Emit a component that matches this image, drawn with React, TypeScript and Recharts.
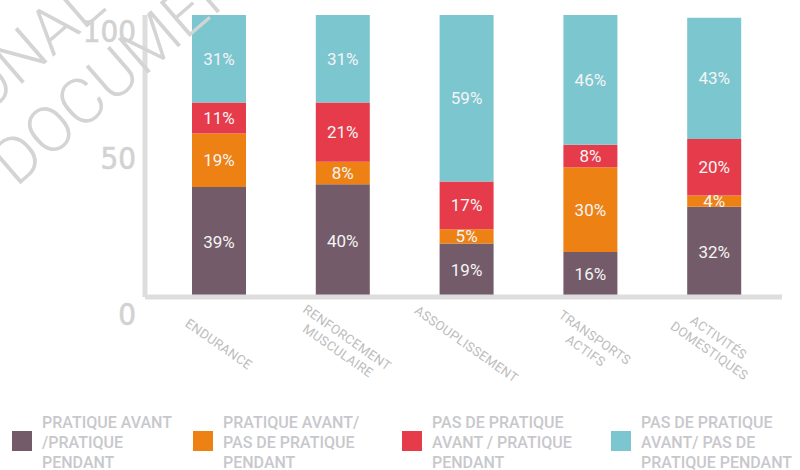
import React from "react";
import { BarChart, Bar, XAxis, YAxis, LabelList } from "recharts";

const categories = [
  "ENDURANCE",
  "RENFORCEMENT MUSCULAIRE",
  "ASSOUPLISSEMENT",
  "TRANSPORTS ACTIFS",
  "ACTIVITÉS DOMESTIQUES",
];
const pratiqueAvantPratiquePendant = [39, 40, 19, 16, 32];
const pratiqueAvantPasPendant = [19, 8, 5, 30, 4];
const pasAvantPratiquePendant = [11, 21, 17, 8, 20];
const pasAvantPasPendant = [31, 31, 59, 46, 43];
const yTicks = [0, 50, 100];

const seriesKeys = ["ppa", "ppn", "npa", "npn"];
const seriesColors = ["#735b69", "#ee8114", "#e63b4a", "#7cc6d0"];
const seriesLabels = [
  ["PRATIQUE AVANT", "/PRATIQUE", "PENDANT"],
  ["PRATIQUE AVANT/", "PAS DE PRATIQUE", "PENDANT"],
  ["PAS DE PRATIQUE", "AVANT / PRATIQUE", "PENDANT"],
  ["PAS DE PRATIQUE", "AVANT/ PAS DE", "PRATIQUE PENDANT"],
];
const watermarkLines = ["PERSONAL", "DOCUMENT"];

const data = categories.map((c, i) => ({
  name: c,
  ppa: pratiqueAvantPratiquePendant[i],
  ppn: pratiqueAvantPasPendant[i],
  npa: pasAvantPratiquePendant[i],
  npn: pasAvantPasPendant[i],
}));

const yOffsets: Record<number, number> = { 100: 16, 50: 2, 0: 17 };

const YTick = (props: any) => {
  const { x, y, payload } = props;
  const v = payload.value;
  return (
    <text
      x={x}
      y={y + (yOffsets[v] ?? 0)}
      dy="0.36em"
      textAnchor="end"
      fontFamily="'Liberation Sans Narrow', 'DejaVu Sans Condensed', Roboto, sans-serif"
      fontSize={31}
      fill="#d2d2d2"
      stroke="#d2d2d2"
      strokeWidth={0.6}
    >
      {v}
    </text>
  );
};

const XTick = (props: any) => {
  const { x, y, payload } = props;
  const lines = String(payload.value).split(" ");
  const n = lines.length;
  return (
    <g transform={`translate(${x},${y + 47}) rotate(35)`}>
      {lines.map((l, i) => (
        <text
          key={i}
          x={0}
          y={(i - (n - 1) / 2) * 16}
          dy="0.36em"
          textAnchor="middle"
          fontFamily="Roboto, sans-serif"
          fontSize={13}
          letterSpacing={0.3}
          fill="#bdbdbd"
        >
          {l}
        </text>
      ))}
    </g>
  );
};

const legendX = [12, 193, 402, 611];

export default function App() {
  return (
    <div
      style={{
        position: "absolute",
        left: 0,
        top: 0,
        width: 800,
        height: 470,
        background: "#ffffff",
        overflow: "hidden",
      }}
    >
      <BarChart
        width={800}
        height={470}
        data={data}
        margin={{ top: 15, right: 18, left: 0, bottom: 0 }}
        barSize={54}
      >
        <XAxis
          dataKey="name"
          height={173}
          interval={0}
          tickLine={false}
          tickSize={0}
          tickMargin={0}
          padding={{ left: 12, right: 6 }}
          axisLine={{ stroke: "#dddddd", strokeWidth: 5 }}
          tick={<XTick />}
        />
        <YAxis
          width={145}
          domain={[0, 100]}
          ticks={yTicks}
          tickLine={false}
          tickSize={0}
          tickMargin={9}
          axisLine={{ stroke: "#dddddd", strokeWidth: 5 }}
          tick={<YTick />}
        />
        {seriesKeys.map((k, i) => (
          <Bar
            key={k}
            dataKey={k}
            stackId="a"
            fill={seriesColors[i]}
            isAnimationActive={false}
          >
            <LabelList
              dataKey={k}
              position="center"
              formatter={(v: any) => `${v}%`}
              fill="#f4f4f4"
              fontSize={17}
              fontFamily="Roboto, sans-serif"
            />
          </Bar>
        ))}
      </BarChart>
      <svg
        width={800}
        height={470}
        style={{ position: "absolute", left: 0, top: 0, pointerEvents: "none" }}
      >
        <text
          transform="translate(108,9) rotate(-41)"
          textAnchor="end"
          fontFamily="Roboto, sans-serif"
          fontWeight={300}
          fontSize={64}
          fill="#d4d4d4"
        >
          {watermarkLines[0]}
        </text>
        <text
          transform="translate(16,188) rotate(-41)"
          fontFamily="Roboto, sans-serif"
          fontWeight={300}
          fontSize={64}
          fill="#d4d4d4"
        >
          {watermarkLines[1]}
        </text>
        {seriesLabels.map((lines, i) => (
          <g key={i}>
            <rect x={legendX[i]} y={431} width={20} height={20} fill={seriesColors[i]} />
            {lines.map((l, j) => (
              <text
                key={j}
                x={legendX[i] + 30}
                y={428 + j * 20}
                fontFamily="Roboto, sans-serif"
                fontWeight={500}
                fontSize={16}
                fill="#c8c8cc"
              >
                {l}
              </text>
            ))}
          </g>
        ))}
      </svg>
    </div>
  );
}
